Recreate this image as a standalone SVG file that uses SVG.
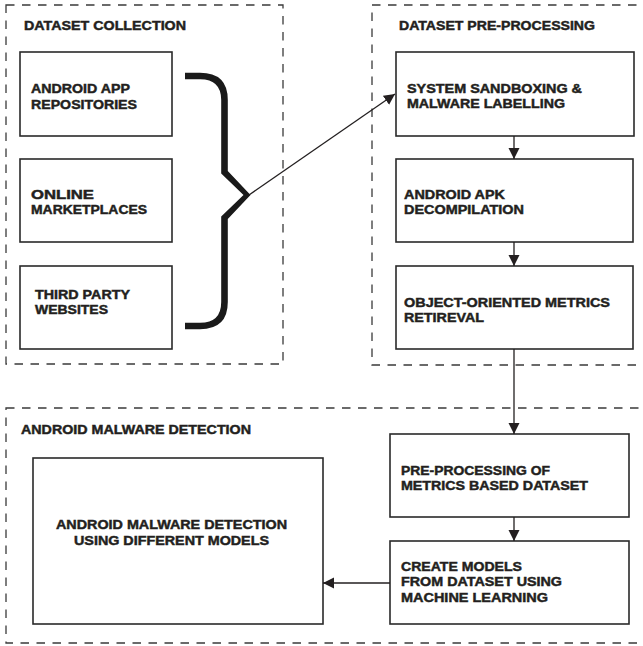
<svg xmlns="http://www.w3.org/2000/svg" width="643" height="646" viewBox="0 0 643 646">
<defs>
<style>
.bg{fill:#ffffff}
.grp{fill:none;stroke:#3a3a3a;stroke-width:1.3;stroke-dasharray:8.5 7.5}
.box{fill:#ffffff;stroke:#2a2a2a;stroke-width:1.6}
.t{font-family:"Liberation Sans",Arial,sans-serif;font-weight:bold;font-size:12.5px;fill:#231f20;stroke:#231f20;stroke-width:0.45}
.ln{fill:none;stroke:#231f20;stroke-width:1.3}
.brace{fill:#1a1a1a;stroke:none}
</style>
<marker id="ah" markerUnits="userSpaceOnUse" markerWidth="12" markerHeight="12" refX="11" refY="5.5" orient="auto">
<path d="M0,0 L11,5.5 L0,11 z" fill="#231f20"/>
</marker>
</defs>
<rect class="bg" x="0" y="0" width="643" height="646"/>

<g id="group-collection">
<rect class="grp" x="6" y="5" width="277" height="359"/>
<text class="t" x="24" y="30" textLength="162" lengthAdjust="spacingAndGlyphs">DATASET COLLECTION</text>
</g>
<g id="group-preprocessing">
<rect class="grp" x="372" y="5" width="280" height="360"/>
<text class="t" x="399" y="30" textLength="196" lengthAdjust="spacingAndGlyphs">DATASET PRE-PROCESSING</text>
</g>
<g id="group-detection">
<rect class="grp" x="6" y="408" width="646" height="235"/>
<text class="t" x="21" y="434" textLength="230" lengthAdjust="spacingAndGlyphs">ANDROID MALWARE DETECTION</text>
</g>

<g id="node-repositories">
<rect class="box" x="20" y="52" width="152" height="84"/>
<text class="t" x="31" y="93" textLength="99" lengthAdjust="spacingAndGlyphs">ANDROID APP</text>
<text class="t" x="31" y="109" textLength="106" lengthAdjust="spacingAndGlyphs">REPOSITORIES</text>
</g>
<g id="node-marketplaces">
<rect class="box" x="20" y="159" width="152" height="83"/>
<text class="t" x="31" y="199" textLength="63" lengthAdjust="spacingAndGlyphs">ONLINE</text>
<text class="t" x="31" y="214" textLength="116" lengthAdjust="spacingAndGlyphs">MARKETPLACES</text>
</g>
<g id="node-thirdparty">
<rect class="box" x="20" y="266" width="152" height="83"/>
<text class="t" x="35" y="299" textLength="95" lengthAdjust="spacingAndGlyphs">THIRD PARTY</text>
<text class="t" x="35" y="314" textLength="73" lengthAdjust="spacingAndGlyphs">WEBSITES</text>
</g>

<g id="node-sandboxing">
<rect class="box" x="396" y="52" width="238" height="84"/>
<text class="t" x="407" y="93" textLength="175" lengthAdjust="spacingAndGlyphs">SYSTEM SANDBOXING &amp;</text>
<text class="t" x="407" y="108" textLength="158" lengthAdjust="spacingAndGlyphs">MALWARE LABELLING</text>
</g>
<g id="node-decompilation">
<rect class="box" x="396" y="159" width="237" height="83"/>
<text class="t" x="404" y="199" textLength="101" lengthAdjust="spacingAndGlyphs">ANDROID APK</text>
<text class="t" x="404" y="214" textLength="120" lengthAdjust="spacingAndGlyphs">DECOMPILATION</text>
</g>
<g id="node-metrics">
<rect class="box" x="396" y="266" width="237" height="83"/>
<text class="t" x="404" y="307" textLength="206" lengthAdjust="spacingAndGlyphs">OBJECT-ORIENTED METRICS</text>
<text class="t" x="404" y="322" textLength="80" lengthAdjust="spacingAndGlyphs">RETIREVAL</text>
</g>

<g id="node-preprocessing-metrics">
<rect class="box" x="390" y="434" width="239" height="83"/>
<text class="t" x="401" y="475" textLength="149" lengthAdjust="spacingAndGlyphs">PRE-PROCESSING OF</text>
<text class="t" x="401" y="490" textLength="187" lengthAdjust="spacingAndGlyphs">METRICS BASED DATASET</text>
</g>
<g id="node-create-models">
<rect class="box" x="390" y="541" width="239" height="83"/>
<text class="t" x="401" y="571" textLength="121" lengthAdjust="spacingAndGlyphs">CREATE MODELS</text>
<text class="t" x="401" y="586" textLength="161" lengthAdjust="spacingAndGlyphs">FROM DATASET USING</text>
<text class="t" x="401" y="602" textLength="147" lengthAdjust="spacingAndGlyphs">MACHINE LEARNING</text>
</g>
<g id="node-detection">
<rect class="box" x="33" y="458" width="290" height="166"/>
<text class="t" x="56" y="529" textLength="231" lengthAdjust="spacingAndGlyphs">ANDROID MALWARE DETECTION</text>
<text class="t" x="74" y="545" textLength="195" lengthAdjust="spacingAndGlyphs">USING DIFFERENT MODELS</text>
</g>

<g id="connectors">
<path class="brace" d="M185,72.8 H200 Q227.8,72.8 227.8,100 V171 L250.5,195 L227.8,219 V302 Q227.8,329.2 200,329.2 H185 V322.8 H200 Q221.2,322.8 221.2,302 V216.5 L243.5,195 L221.2,173.5 V100 Q221.2,79.2 200,79.2 H185 Z"/>
<line class="ln" x1="249" y1="195" x2="395" y2="94" marker-end="url(#ah)"/>
<line class="ln" x1="514" y1="136" x2="514" y2="159" marker-end="url(#ah)"/>
<line class="ln" x1="514" y1="242" x2="514" y2="266" marker-end="url(#ah)"/>
<line class="ln" x1="514" y1="349" x2="514" y2="434" marker-end="url(#ah)"/>
<line class="ln" x1="514" y1="517" x2="514" y2="541" marker-end="url(#ah)"/>
<line class="ln" x1="390" y1="583" x2="323" y2="583" marker-end="url(#ah)"/>
</g>
</svg>
